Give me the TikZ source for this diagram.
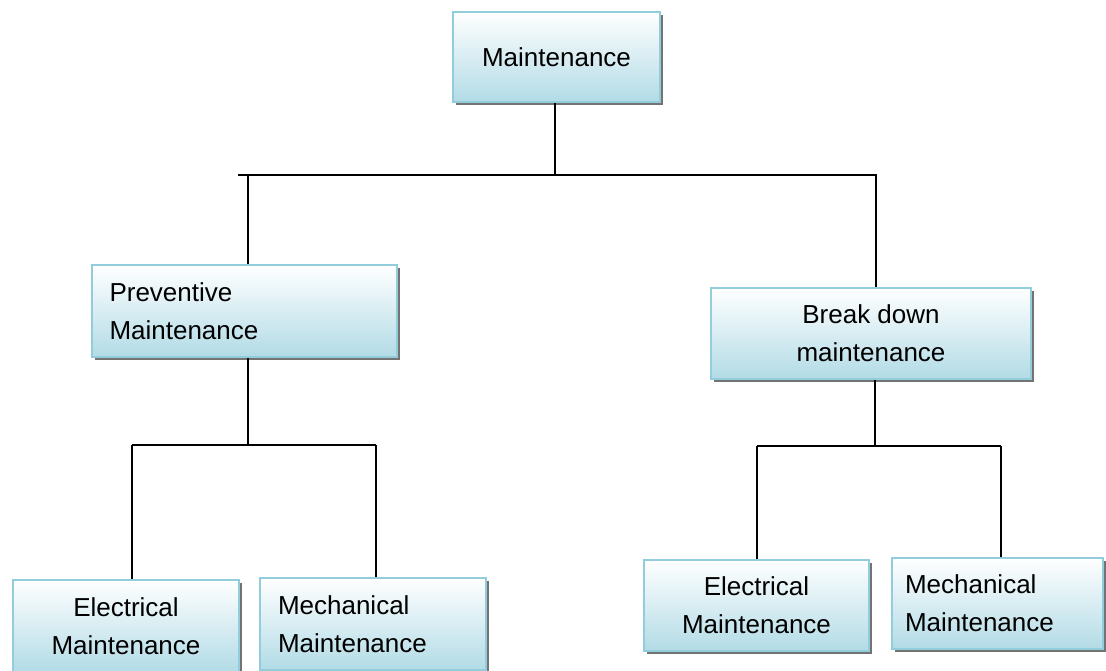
\documentclass[tikz,border=0pt]{standalone}
\usepackage{fontspec}
\setmainfont{Liberation Sans}
\definecolor{boxblue}{RGB}{178,219,230}
\definecolor{boxedge}{RGB}{146,205,220}
\begin{document}
\begin{tikzpicture}[x=1pt,y=-1pt,
  box/.style={draw=boxedge, line width=2.4pt, top color=white, bottom color=boxblue,
    font=\fontsize{26}{38}\selectfont, inner sep=0pt,
    preaction={fill=black!55, transform canvas={xshift=3pt,yshift=-3pt}}},
  link/.style={line width=1.8pt, black}]
\useasboundingbox (0,0) rectangle (1106,670);
% boxes
\node[box, minimum width=207, minimum height=90, align=center] (m) at (556.5,57) {Maintenance};
\node[box, minimum width=305, minimum height=92, text width=270, align=left] (p) at (244.5,311) {Preventive\\Maintenance};
\node[box, minimum width=320, minimum height=91, align=center] (b) at (871,333.5) {Break down\\maintenance};
\node[box, minimum width=226, minimum height=92, align=center] (pe) at (126,626) {Electrical\\Maintenance};
\node[box, minimum width=226, minimum height=92, text width=190, align=left] (pm) at (373,624) {Mechanical\\Maintenance};
\node[box, minimum width=225, minimum height=91, align=center] (be) at (756.5,605.5) {Electrical\\Maintenance};
\node[box, minimum width=211, minimum height=91, text width=185, align=left] (bm) at (997.5,603.5) {Mechanical\\Maintenance};
% junctions
\coordinate (j0) at (555,175);
\coordinate (j0l) at (238,175);
\coordinate (j1) at (248,445);
\coordinate (j2) at (875,446);
% connectors
\draw[link] (m.south -| j0) -- (j0);
\draw[link] (j0l) -- (876,175) -- (876,175 |- b.north);
\draw[link] (248,175) -- (p.north -| 248,0);
\draw[link] (p.south -| j1) -- (j1);
\draw[link] (132,445) -- (376,445);
\draw[link] (132,445) -- (pe.north -| 132,0);
\draw[link] (376,445) -- (pm.north -| 376,0);
\draw[link] (b.south -| j2) -- (j2);
\draw[link] (757,446) -- (1001,446);
\draw[link] (757,446) -- (be.north -| 757,0);
\draw[link] (1001,446) -- (bm.north -| 1001,0);
\end{tikzpicture}
\end{document}
